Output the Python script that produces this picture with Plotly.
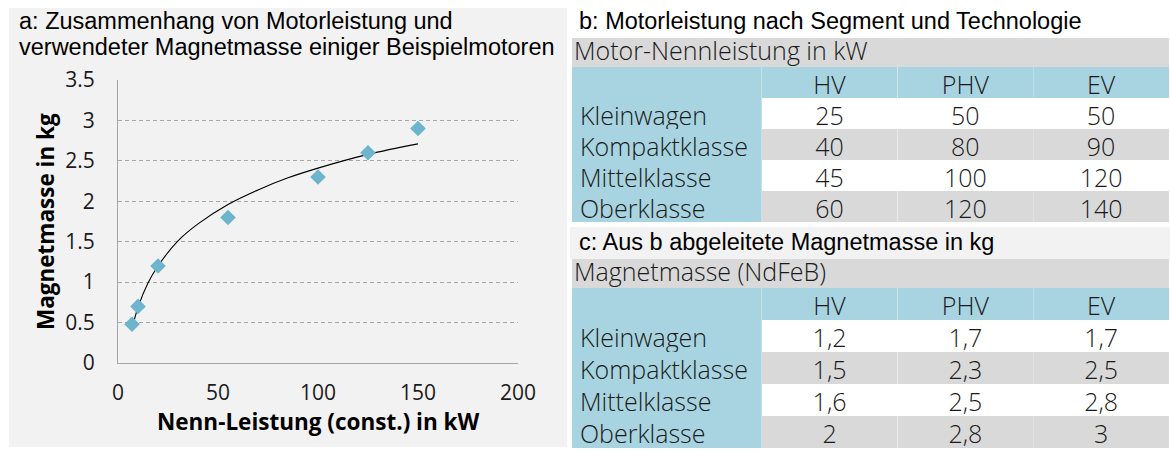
import plotly.graph_objects as go

# ---- data ----
power_kw = [7, 10, 20, 55, 100, 125, 150]
magnet_kg = [0.48, 0.70, 1.20, 1.80, 2.30, 2.60, 2.90]

# trend line (logarithmic trend)
trend_x = [7, 10, 15, 20, 30, 40, 55, 70, 85, 100, 125, 150]
trend_y = [0.42, 0.69, 0.99, 1.20, 1.51, 1.72, 1.96, 2.14, 2.29, 2.41, 2.58, 2.71]

x_ticks = [0, 50, 100, 150, 200]
y_ticks = [0, 0.5, 1, 1.5, 2, 2.5, 3, 3.5]

segments = ["Kleinwagen", "Kompaktklasse", "Mittelklasse", "Oberklasse"]
technologies = ["HV", "PHV", "EV"]

power_hv = [25, 40, 45, 60]
power_phv = [50, 80, 100, 120]
power_ev = [50, 90, 120, 140]

mass_hv = [1.2, 1.5, 1.6, 2.0]
mass_phv = [1.7, 2.3, 2.5, 2.8]
mass_ev = [1.7, 2.5, 2.8, 3.0]

# ---- layout helpers ----
W, H = 1170, 452


def px(x):
    return x / W


def py(y):
    return 1 - y / H


BLUE = "#a8d4e1"
GREY = "#d9d9d9"
PANEL = "#f2f2f2"
MARK = "#6cb5cd"
TXT = "#1a1a1a"
TICKFONT = "Open Sans"
TABFONT = "Open Sans"
TAB_SIZE = 25
TITLE_SIZE = 23.5

fig = go.Figure()

# scatter + trend
fig.add_trace(go.Scatter(
    x=trend_x, y=trend_y, mode="lines", line=dict(color="black", width=1.1, shape="spline"),
    showlegend=False, hoverinfo="skip"))
fig.add_trace(go.Scatter(
    x=power_kw, y=magnet_kg, mode="markers",
    marker=dict(symbol="diamond", size=12, color=MARK, line=dict(width=0)),
    showlegend=False))


def fmt_de(v):
    return f"{v:g}".replace(".", ",")


def add_table(cols, top, row_h):
    n_rows = len(segments) + 1
    white_grey = ["white", GREY, "white", GREY]
    fig.add_trace(go.Table(
        domain=dict(x=[px(572), px(1169)], y=[py(top + row_h * n_rows + 1), py(top)]),
        columnwidth=[190, 136, 136, 136],
        header=dict(values=[""] + technologies, fill_color=BLUE,
                    align=["left", "center", "center", "center"], height=row_h,
                    line=dict(width=0, color=BLUE),
                    font=dict(family=TABFONT, size=TAB_SIZE, color=TXT, weight=300)),
        cells=dict(values=[segments] + cols,
                   fill_color=[[BLUE] * 4, white_grey, white_grey, white_grey],
                   align=["left", "center", "center", "center"], height=row_h,
                   line=dict(width=0, color="white"),
                   font=dict(family=TABFONT, size=TAB_SIZE, color=TXT, weight=300)),
    ))


add_table([[str(v) for v in power_hv], [str(v) for v in power_phv], [str(v) for v in power_ev]], 67, 31)
add_table([[fmt_de(v) for v in mass_hv], [fmt_de(v) for v in mass_phv], [fmt_de(v) for v in mass_ev]], 288, 32)

shapes = [
    dict(type="rect", xref="paper", yref="paper", x0=px(9), x1=px(567), y0=py(447), y1=py(8),
         fillcolor=PANEL, line=dict(width=0), layer="below"),
    dict(type="rect", xref="paper", yref="paper", x0=px(570), x1=px(1170), y0=py(259), y1=py(227),
         fillcolor=PANEL, line=dict(width=0), layer="below"),
    # title bars of the two tables
    dict(type="rect", xref="paper", yref="paper", x0=px(572), x1=px(1169), y0=py(67), y1=py(38),
         fillcolor=GREY, line=dict(width=0), layer="below"),
    dict(type="rect", xref="paper", yref="paper", x0=px(572), x1=px(1169), y0=py(288), y1=py(259),
         fillcolor=GREY, line=dict(width=0), layer="below"),
]


def ann(text, x, y, size, family, xanchor="left", weight="normal", angle=0, color="black"):
    return dict(text=text, x=px(x), y=py(y), xref="paper", yref="paper", xanchor=xanchor,
                yanchor="middle", align="left", showarrow=False, textangle=angle,
                font=dict(family=family, size=size, color=color, weight=weight))


annotations = [
    ann("a: Zusammenhang von Motorleistung und", 17, 21, TITLE_SIZE, "Liberation Sans"),
    ann("verwendeter Magnetmasse einiger Beispielmotoren", 17, 47, TITLE_SIZE, "Liberation Sans"),
    ann("b: Motorleistung nach Segment und Technologie", 577, 21, TITLE_SIZE, "Liberation Sans"),
    ann("c: Aus b abgeleitete Magnetmasse in kg", 577, 242, TITLE_SIZE, "Liberation Sans"),
    ann("Motor-Nennleistung in kW", 572, 50, TAB_SIZE, TABFONT, weight=300, color=TXT),
    ann("Magnetmasse (NdFeB)", 572, 271, TAB_SIZE, TABFONT, weight=300, color=TXT),
    ann("Magnetmasse in kg", 45, 222, 22.5, TICKFONT, xanchor="center", weight="bold", angle=-90),
    ann("Nenn-Leistung (const.) in kW", 318, 421, 22.5, TICKFONT, xanchor="center", weight="bold"),
]

fig.update_layout(
    width=W, height=H,
    margin=dict(l=0, r=0, t=0, b=0, autoexpand=False),
    paper_bgcolor="white", plot_bgcolor=PANEL,
    shapes=shapes, annotations=annotations,
    xaxis=dict(domain=[px(118), px(518)], range=[0, 200], tickvals=x_ticks,
               showgrid=False, zeroline=False, showline=True, linecolor="#a6a6a6", linewidth=1,
               ticks="", ticklabelstandoff=11, automargin=False,
               tickfont=dict(family=TICKFONT, size=21, color=TXT), fixedrange=True),
    yaxis=dict(domain=[py(363), py(80)], range=[0, 3.5], tickvals=y_ticks, ticktext=[f"{v:g}" for v in y_ticks],
               showgrid=True, gridcolor="#a6a6a6", griddash="4px,3px", gridwidth=1,
               zeroline=False, showline=True, linecolor="#a6a6a6", linewidth=1,
               ticks="", ticklabelstandoff=18, automargin=False,
               tickfont=dict(family=TICKFONT, size=21, color=TXT), fixedrange=True),
)

fig.write_html("out.html", config={"displayModeBar": False},
               post_script="document.body.style.margin='0';document.body.style.overflow='hidden';")
